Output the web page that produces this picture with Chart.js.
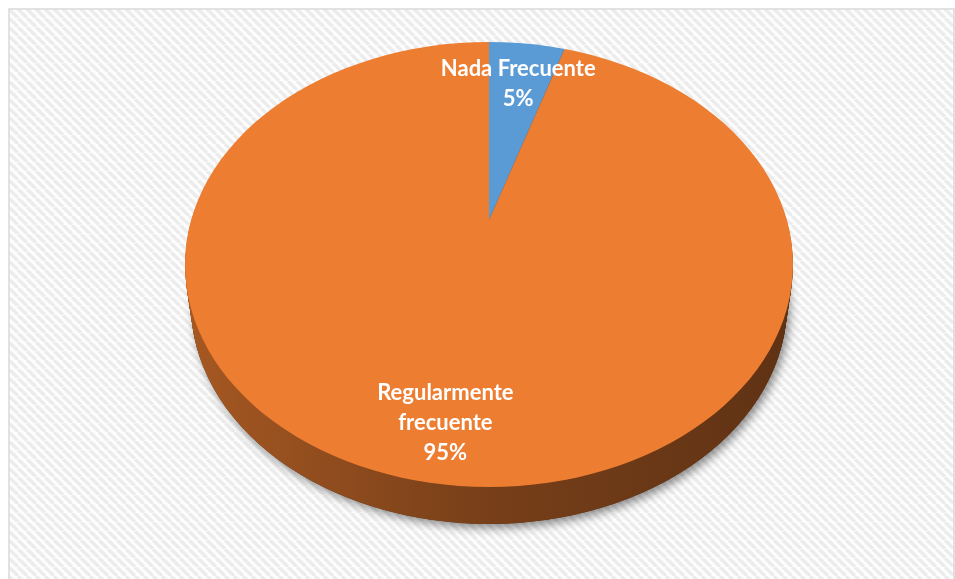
<!DOCTYPE html>
<html>
<head>
<meta charset="utf-8">
<script src="https://cdn.jsdelivr.net/npm/chart.js@4.4.0/dist/chart.umd.min.js"></script>
<style>
html, body { margin: 0; padding: 0; background: #fff; }
#wrap { width: 955px; height: 579px; }
</style>
</head>
<body>
<div id="wrap"><canvas id="mycanvas" width="955" height="579"></canvas></div>
<script>
var categories = ["Nada Frecuente", "Regularmente frecuente"];
var labelNames = [["Nada Frecuente"], ["Regularmente", "frecuente"]];
var values = [5, 95];
var colors = ["#5B9BD5", "#ED7D31"];

// tilted pie geometry (screen px)
var EX = 489, EY = 264.5, RX = 304, RY = 222.5;
var APEX_Y = 220, DEPTH = 40, TILT = 0.735, REACH = 420;

function shade(hex, f) {
	var n = parseInt(hex.slice(1), 16);
	var r = Math.round(((n >> 16) & 255) * f);
	var g = Math.round(((n >> 8) & 255) * f);
	var b = Math.round((n & 255) * f);
	return "rgb(" + r + "," + g + "," + b + ")";
}

// the lower rim looks a little smaller (farther away)
function ellipsePath(ctx, dy) {
	var k = dy / DEPTH;
	ctx.beginPath();
	ctx.ellipse(EX, EY + dy, RX - 6 * k, RY - 3 * k, 0, 0, Math.PI * 2);
}

function pieTransform(ctx, el, dy) {
	var s = REACH / el.outerRadius;
	ctx.translate(EX, APEX_Y + dy);
	ctx.scale(s, s * TILT);
	ctx.translate(-el.x, -el.y);
}

function stripePattern(ctx) {
	var p = 9;
	var c = document.createElement("canvas");
	c.width = p; c.height = p;
	var t = c.getContext("2d");
	t.fillStyle = "#fdfdfd";
	t.fillRect(0, 0, p, p);
	t.strokeStyle = "#ececec";
	t.lineWidth = 3.4;
	for (var k = -1; k <= 1; k++) {
		t.beginPath();
		t.moveTo(k * p, 0);
		t.lineTo(k * p + p, p);
		t.stroke();
	}
	return ctx.createPattern(c, "repeat");
}

var pie3d = {
	id: "pie3d",
	beforeDraw: function(chart) {
		var ctx = chart.ctx;
		ctx.save();
		ctx.fillStyle = "#ffffff";
		ctx.fillRect(0, 0, chart.width, chart.height);
		ctx.fillStyle = stripePattern(ctx);
		ctx.fillRect(9, 9, 946, 570);
		ctx.strokeStyle = "#d9d9d9";
		ctx.lineWidth = 1.5;
		ctx.strokeRect(9, 9, 945, 575);
		ctx.restore();
	},
	beforeDatasetsDraw: function(chart) {
		var ctx = chart.ctx;
		var arcs = chart.getDatasetMeta(0).data;
		var el0 = arcs[0];
		var s = REACH / el0.outerRadius;

		// soft shadow under the side
		ctx.save();
		ctx.shadowColor = "rgba(0,0,0,0.45)";
		ctx.shadowBlur = 10;
		ctx.shadowOffsetX = 3;
		ctx.shadowOffsetY = 4;
		ellipsePath(ctx, DEPTH);
		ctx.fillStyle = "#5a3014";
		ctx.fill();
		ctx.restore();

		// side of the pie, slices stacked downward
		for (var d = DEPTH; d >= 1; d--) {
			ctx.save();
			ellipsePath(ctx, d);
			ctx.clip();
			pieTransform(ctx, el0, d);
			arcs.forEach(function(arc, i) {
				var g = ctx.createLinearGradient(el0.x - RX / s, 0, el0.x + RX / s, 0);
				g.addColorStop(0, shade(colors[i], 0.70));
				g.addColorStop(0.5, shade(colors[i], 0.50));
				g.addColorStop(1, shade(colors[i], 0.40));
				var side = Object.create(arc);
				side.options = Object.assign({}, arc.options, { backgroundColor: g, borderWidth: 0 });
				side.draw(ctx);
			});
			ctx.restore();
		}

		// top face
		ctx.save();
		ellipsePath(ctx, 0);
		ctx.clip();
		pieTransform(ctx, el0, 0);
	},
	afterDatasetsDraw: function(chart) {
		var ctx = chart.ctx;
		ctx.restore();

		var arcs = chart.getDatasetMeta(0).data;
		var s = REACH / arcs[0].outerRadius;
		var total = values.reduce(function(a, b) { return a + b; }, 0);
		var q = APEX_Y - EY;

		ctx.save();
		ctx.fillStyle = "#ffffff";
		ctx.font = "bold 22px Lato";
		ctx.textAlign = "center";
		ctx.textBaseline = "middle";
		arcs.forEach(function(arc, i) {
			var a = (arc.startAngle + arc.endAngle) / 2;
			var ux = Math.cos(a) * s, uy = Math.sin(a) * s * TILT;
			var len = Math.sqrt(ux * ux + uy * uy);
			ux /= len; uy /= len;
			var A = ux * ux / (RX * RX) + uy * uy / (RY * RY);
			var B = 2 * q * uy / (RY * RY);
			var C = q * q / (RY * RY) - 1;
			var t = (-B + Math.sqrt(B * B - 4 * A * C)) / (2 * A);
			var lx = EX + ux * t * 0.77;
			var ly = APEX_Y + uy * t * 0.77;
			var lines = labelNames[i].concat([Math.round(values[i] / total * 100) + "%"]);
			lines.forEach(function(line, j) {
				ctx.fillText(line, lx, ly + (j - (lines.length - 1) / 2) * 30);
			});
		});
		ctx.restore();
	}
};

var ctx = document.getElementById("mycanvas");

var pieChart = new Chart(ctx, {
	type: "pie",
	data: {
		labels: categories,
		datasets: [
			{
				data: values,
				backgroundColor: colors,
				borderWidth: 0,
				clip: false
			}
		]
	},
	options: {
		responsive: false,
		animation: false,
		layout: { padding: 0 },
		plugins: {
			legend: { display: false },
			tooltip: { enabled: false }
		}
	},
	plugins: [pie3d]
});
</script>
</body>
</html>
